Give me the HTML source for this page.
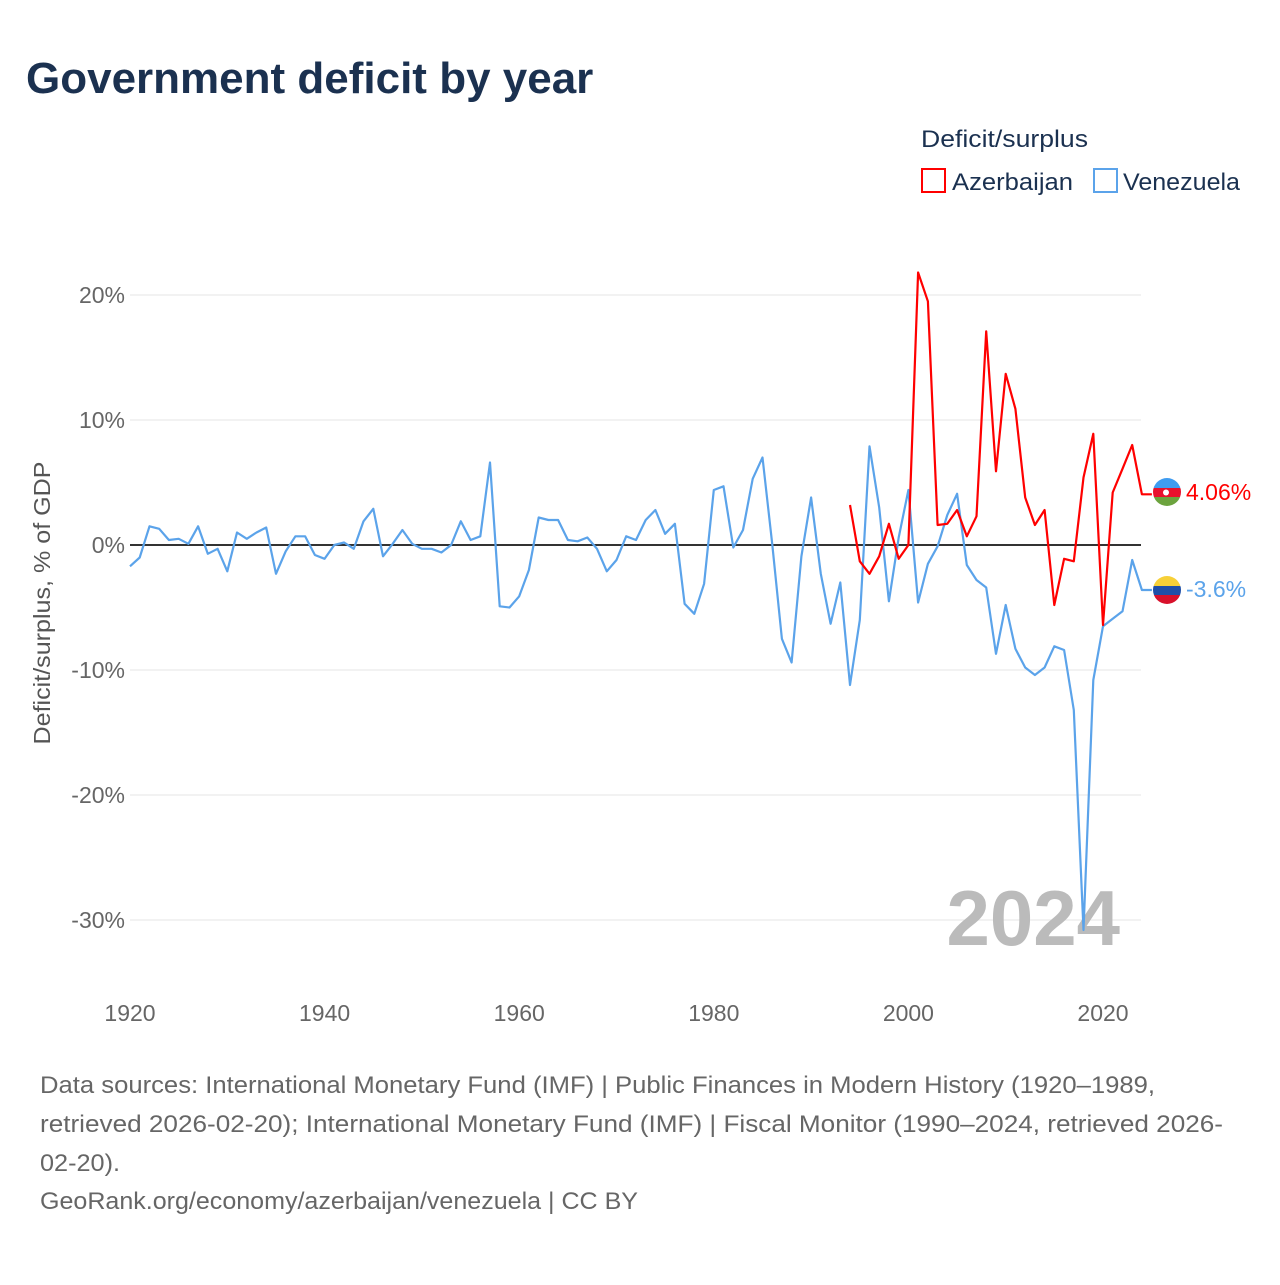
<!DOCTYPE html>
<html><head><meta charset="utf-8"><style>
body{margin:0;background:#fff;font-family:"Liberation Sans",sans-serif}
svg text{font-family:"Liberation Sans",sans-serif}
</style></head><body>
<svg width="1280" height="1280" viewBox="0 0 1280 1280">
<text x="26" y="93" font-size="44" font-weight="bold" fill="#1b3150">Government deficit by year</text>
<text x="921" y="147" font-size="24" fill="#1b3150" textLength="167" lengthAdjust="spacingAndGlyphs">Deficit/surplus</text>
<g><rect x="922" y="169" width="23" height="23" fill="none" stroke="#f00" stroke-width="2"/><text x="952" y="190" font-size="24" fill="#1b3150" textLength="121" lengthAdjust="spacingAndGlyphs">Azerbaijan</text></g>
<g><rect x="1094" y="169" width="23" height="23" fill="none" stroke="#5ba3ea" stroke-width="2"/><text x="1123" y="190" font-size="24" fill="#1b3150" textLength="117" lengthAdjust="spacingAndGlyphs">Venezuela</text></g>
<g id="grid"></g>
<g id="yticks"></g>
<g id="xticks"></g>
<text transform="translate(50,603) rotate(-90)" text-anchor="middle" font-size="23" fill="#555" textLength="283" lengthAdjust="spacingAndGlyphs">Deficit/surplus, % of GDP</text>
<text x="1120" y="945" text-anchor="end" font-size="78" font-weight="bold" fill="#bbb">2024</text>
<g id="series"></g>
<g><clipPath id="c1"><circle cx="1167" cy="492" r="14"/></clipPath><g clip-path="url(#c1)"><rect x="1153" y="478" width="28" height="10" fill="#3f9cf0"/><rect x="1153" y="488" width="28" height="9" fill="#e8112d"/><rect x="1153" y="497" width="28" height="10" fill="#6ca33e"/><circle cx="1166" cy="492.5" r="3" fill="#fff"/></g></g>
<g><clipPath id="c2"><circle cx="1167" cy="590" r="14"/></clipPath><g clip-path="url(#c2)"><rect x="1153" y="576" width="28" height="10" fill="#f7d038"/><rect x="1153" y="586" width="28" height="9" fill="#1f4fa8"/><rect x="1153" y="595" width="28" height="10" fill="#d8102b"/></g></g>
<text id="lab-az" x="1186" y="500" font-size="23" fill="#f00">4.06%</text>
<text id="lab-ve" x="1186" y="597" font-size="23" fill="#5ba3ea">-3.6%</text>
<g font-size="24" fill="#666">
<text x="40" y="1093" textLength="1115" lengthAdjust="spacingAndGlyphs">Data sources: International Monetary Fund (IMF) | Public Finances in Modern History (1920–1989,</text>
<text x="40" y="1132" textLength="1183" lengthAdjust="spacingAndGlyphs">retrieved 2026-02-20); International Monetary Fund (IMF) | Fiscal Monitor (1990–2024, retrieved 2026-</text>
<text x="40" y="1171" textLength="80" lengthAdjust="spacingAndGlyphs">02-20).</text>
<text x="40" y="1209" textLength="598" lengthAdjust="spacingAndGlyphs">GeoRank.org/economy/azerbaijan/venezuela | CC BY</text>
</g>
</svg>
<script>
const yTicks=[20,10,0,-10,-20,-30];
const xTicks=[1920,1940,1960,1980,2000,2020];
const venStart=1920;
const venezuela=[-1.7,-1.0,1.5,1.3,0.4,0.5,0.1,1.5,-0.7,-0.3,-2.1,1.0,0.5,1.0,1.4,-2.3,-0.5,0.7,0.7,-0.8,-1.1,0,0.2,-0.3,1.9,2.9,-0.9,0.1,1.2,0.1,-0.3,-0.3,-0.6,0,1.9,0.4,0.7,6.6,-4.9,-5.0,-4.1,-2.0,2.2,2.0,2.0,0.4,0.3,0.6,-0.3,-2.1,-1.2,0.7,0.4,2.0,2.8,0.9,1.7,-4.7,-5.5,-3.1,4.4,4.7,-0.2,1.2,5.3,7.0,0.1,-7.5,-9.4,-0.9,3.8,-2.3,-6.3,-3.0,-11.2,-6.0,7.9,3.0,-4.5,0.6,4.4,-4.6,-1.5,-0.1,2.4,4.1,-1.6,-2.8,-3.4,-8.7,-4.8,-8.3,-9.8,-10.4,-9.8,-8.1,-8.4,-13.2,-30.8,-10.8,-6.5,-5.9,-5.3,-1.2,-3.6];
const azStart=1994;
const azerbaijan=[3.2,-1.3,-2.3,-0.9,1.7,-1.1,0,21.8,19.5,1.6,1.7,2.8,0.7,2.3,17.1,5.9,13.7,10.9,3.8,1.6,2.8,-4.8,-1.1,-1.3,5.4,8.9,-6.4,4.2,6.1,8.0,4.06];
const X=yr=>130+(yr-1920)*9.73;
const Y=v=>545-v*12.5;
const NS="http://www.w3.org/2000/svg";
function mk(tag,attrs,parent){const e=document.createElementNS(NS,tag);for(const k in attrs)e.setAttribute(k,attrs[k]);parent.appendChild(e);return e;}
const grid=document.getElementById('grid'),yt=document.getElementById('yticks'),xt=document.getElementById('xticks'),ser=document.getElementById('series');
yTicks.forEach(t=>{
 const l=mk('line',{x1:130,x2:1141,y1:Y(t),y2:Y(t),stroke:'#e6e6e6','stroke-width':1},grid);
 
 
 const tx=mk('text',{x:125,y:Y(t)+8,'text-anchor':'end','font-size':23,fill:'#666'},yt);
 tx.textContent=t+'%';
 
 
});
xTicks.forEach(t=>{
 const tx=mk('text',{x:X(t),y:1021,'text-anchor':'middle','font-size':23,fill:'#666'},xt);
 tx.textContent=t;
 
 
});
const zl=mk('line',{x1:130,x2:1141,y1:Y(0),y2:Y(0),stroke:'#333','stroke-width':2},grid);


function line(arr,start,color,name){
 const pts=arr.map((v,i)=>X(start+i).toFixed(1)+','+Y(v).toFixed(1));
 const last=arr[arr.length-1];
 pts.push((X(start+arr.length-1)+10).toFixed(1)+','+Y(last).toFixed(1));
 const p=mk('polyline',{points:pts.join(' '),fill:'none',stroke:color,'stroke-width':2.2,'stroke-linejoin':'round'},ser);
 
 
}
line(venezuela,venStart,'#5ba3ea','line-venezuela');
line(azerbaijan,azStart,'#ff0000','line-azerbaijan');
</script>
</body></html>
